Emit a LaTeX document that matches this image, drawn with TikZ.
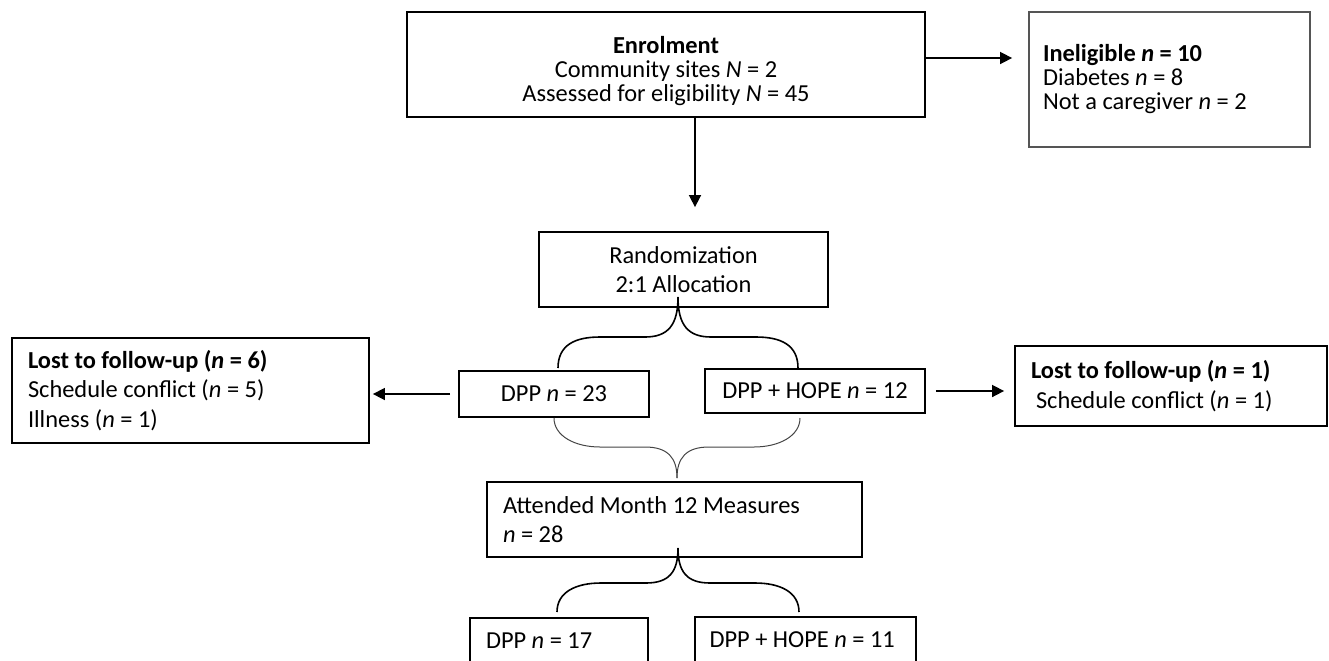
\documentclass[tikz,border=0pt]{standalone}
\usepackage{fontspec}
\setmainfont{Carlito}
\usetikzlibrary{arrows.meta}
\definecolor{boxgray}{HTML}{555555}
\definecolor{thingray}{HTML}{444444}
\newcommand{\tightfont}{\fontsize{12.2}{12}\selectfont\lineskiplimit=-20pt}
\newcommand{\loosefont}{\fontsize{12.2}{14.8}\selectfont}

\tikzset{
  cbox/.style={draw, line width=0.9pt, inner sep=0pt, align=center, font=\loosefont},
  lbox/.style={draw, line width=0.9pt, inner ysep=0pt, inner xsep=8pt, align=flush left, font=\loosefont},
  arr/.style={-{Triangle[length=6pt,width=6pt]}, line width=0.8pt},
  brace/.style={line width=0.8pt},
}

\begin{document}
\begin{tikzpicture}[x=0.5pt,y=-0.5pt]
  \useasboundingbox (0,0) rectangle (1329,660);
  \clip (0,0) rectangle (1329,660);
  % top row
  \node[cbox, font=\tightfont, minimum width=259pt, minimum height=52.5pt] (enrol) at (666,64.5)
    {\rule{0pt}{15pt}\textbf{Enrolment}\\Community sites \textit{N} = 2\\Assessed for eligibility \textit{N} = 45};
  \node[lbox, draw=boxgray, font=\tightfont, inner xsep=7pt, text width=126.5pt, minimum height=67.5pt] (inel) at (1169.5,79.5)
    {\textbf{Ineligible \textit{n} = 10}\\Diabetes \textit{n} = 8\\Not a caregiver \textit{n} = 2};
  \node[cbox, minimum width=144.5pt, minimum height=37.5pt] (rand) at (683.5,269.5)
    {Randomization\\2:1 Allocation};
  % groups
  \node[cbox, minimum width=95pt, minimum height=23pt] (dpp) at (554,394) {DPP \textit{n} = 23};
  \node[cbox, minimum width=110pt, minimum height=22pt] (hope) at (815,391) {DPP + HOPE \textit{n} = 12};
  \node[lbox, text width=162.5pt, minimum height=52.5pt] (lostl) at (190.5,390.5)
    {\textbf{Lost to follow-up (\textit{n} = 6)}\\Schedule conflict (\textit{n} = 5)\\Illness (\textit{n} = 1)};
  \node[lbox, text width=140pt, minimum height=40pt] (lostr) at (1171,386)
    {\textbf{Lost to follow-up (\textit{n} = 1)}\\\hspace*{2.5pt}Schedule conflict (\textit{n} = 1)};
  \node[lbox, text width=171.5pt, minimum height=37.5pt] (attend) at (674.5,519.5)
    {Attended Month 12 Measures\\\textit{n} = 28};
  \node[lbox, text width=73pt, minimum height=23pt] (dppb) at (559,641) {DPP \textit{n} = 17};
  \node[lbox, inner xsep=7.25pt, text width=96pt, minimum height=23pt] (hopeb) at (805.5,640) {DPP + HOPE \textit{n} = 11};

  % arrows
  \coordinate (mid) at (695,0);
  \draw[arr, shorten >=12pt] (enrol.south -| mid) -- (rand.north -| mid);
  \draw[arr, shorten >=8pt] ([yshift=3.25pt]enrol.east) -- ([yshift=3.25pt]enrol.east -| inel.west);
  \draw[arr, shorten <=4pt, shorten >=1.5pt] (dpp.west) -- (lostl.east |- dpp.west);
  \draw[arr, shorten <=5pt, shorten >=5pt] (hope.east) -- (lostr.west |- hope.east);

  % braces
  \coordinate (tip1) at (678,297);
  \coordinate (tip2) at (677,478);
  \coordinate (tip3) at (678,548);
  \foreach \s in {-1,1} {
    \draw[brace] (tip1) .. controls +(0,28) and +(-23*\s,0) .. ++(33*\s,40)
      -- ++(45*\s,0) .. controls +(25*\s,0) and +(0,-23) .. ++(42*\s,31);
    \draw[brace, thingray, line width=0.5pt] (tip2) .. controls +(0,-20) and +(-23*\s,0) .. ++(32*\s,-31)
      -- ++(45*\s,0) .. controls +(25*\s,0) and +(0,18) .. ++(46*\s,-29);
    \draw[brace] (tip3) .. controls +(0,24) and +(-23*\s,0) .. ++(32*\s,35)
      -- ++(45*\s,0) .. controls +(25*\s,0) and +(0,-20) .. ++(44*\s,29);
  }
\end{tikzpicture}
\end{document}
